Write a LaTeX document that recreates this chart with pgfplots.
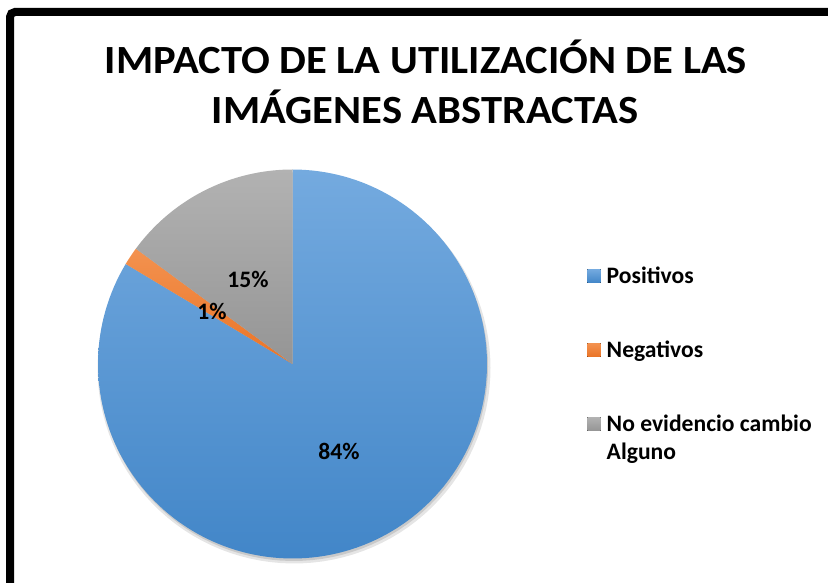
\documentclass[border=0pt]{standalone}
\usepackage{pgfplots}
\pgfplotsset{compat=1.18}
\usepackage{fontspec}
\setmainfont{Carlito}
\definecolor{bluetop}{HTML}{74AADF}
\definecolor{bluebot}{HTML}{4286C8}
\definecolor{orangetop}{HTML}{F3924F}
\definecolor{orangebot}{HTML}{EA7427}
\definecolor{graytop}{HTML}{B2B2B2}
\definecolor{graybot}{HTML}{959595}
% data (percent)
\def\vPos{83.6}
\def\vNeg{1.5}
\def\vNo{14.9}
\pgfmathsetmacro\aA{90}
\pgfmathsetmacro\aB{\aA-3.6*\vPos}
\pgfmathsetmacro\aC{\aB-3.6*\vNeg}
\pgfmathsetmacro\aD{\aC-3.6*\vNo}
\def\cx{292.5}
\def\cy{219}
\def\rr{194.5}
\begin{document}
\begin{tikzpicture}
\begin{axis}[
  name=ax,
  width=828bp, height=583bp, scale only axis,
  xmin=0, xmax=828, ymin=0, ymax=583,
  hide axis,
  legend image code/.code={\fill[#1] (0bp,0.6bp) rectangle (13.4bp,14bp);},
  legend style={at={(axis cs:587.3,314.7)}, anchor=north west, draw=none, fill=none,
    inner sep=0pt, outer sep=0pt,
    font=\fontsize{23.6bp}{28.5bp}\selectfont\bfseries,
    row sep=54bp, column sep=0pt,
    cells={anchor=base west},
    nodes={inner sep=0pt, inner xsep=6bp, text height=15bp, text depth=5bp}},
]
% soft shadow
\addplot[forget plot, draw=none, fill=black, fill opacity=0.10, domain=0:360, samples=120, variable=\t]
  ({\cx+1.5+(\rr+2)*cos(\t)},{\cy-4+(\rr+1)*sin(\t)});
\addplot[forget plot, draw=none, fill=black, fill opacity=0.12, domain=0:360, samples=120, variable=\t]
  ({\cx+1+\rr*cos(\t)},{\cy-2.5+\rr*sin(\t)});
% wedges
\addplot[draw=none, shade, top color=bluetop, bottom color=bluebot, domain=\aB:\aA, samples=160, variable=\t]
  ({\cx+\rr*cos(\t)},{\cy+\rr*sin(\t)}) -- (axis cs:\cx,\cy) -- cycle;
\addlegendentry{Positivos}
\addplot[draw=none, shade, top color=orangetop, bottom color=orangebot, domain=\aC:\aB, samples=10, variable=\t]
  ({\cx+\rr*cos(\t)},{\cy+\rr*sin(\t)}) -- (axis cs:\cx,\cy) -- cycle;
\addlegendentry{Negativos}
\addplot[draw=none, shade, top color=graytop, bottom color=graybot, domain=\aD:\aC, samples=60, variable=\t]
  ({\cx+\rr*cos(\t)},{\cy+\rr*sin(\t)}) -- (axis cs:\cx,\cy) -- cycle;
\addlegendentry{\vtop{\hbox{No evidencio cambio}\hbox{Alguno}}}
% data labels
\node[font=\fontsize{23.6bp}{28bp}\selectfont\bfseries] at (axis cs:339,132) {84\%};
\node[font=\fontsize{23.6bp}{28bp}\selectfont\bfseries] at (axis cs:248,304) {15\%};
\node[font=\fontsize{23.6bp}{28bp}\selectfont\bfseries] at (axis cs:212,272) {1\%};
% title
\node[font=\fontsize{40bp}{48bp}\selectfont\bfseries, anchor=base, xscale=1.065] at (axis cs:426,509.7) {IMPACTO DE LA UTILIZACIÓN DE LAS};
\node[font=\fontsize{40bp}{48bp}\selectfont\bfseries, anchor=base, xscale=1.065] at (axis cs:425,459) {IMÁGENES ABSTRACTAS};
% frame
\draw[line width=8bp, rounded corners=5bp] (axis cs:10,-30) -- (axis cs:10,571) -- (axis cs:870,571);
\end{axis}
\pgfresetboundingbox
\path (ax.south west) rectangle (ax.north east);
\end{tikzpicture}
\end{document}
